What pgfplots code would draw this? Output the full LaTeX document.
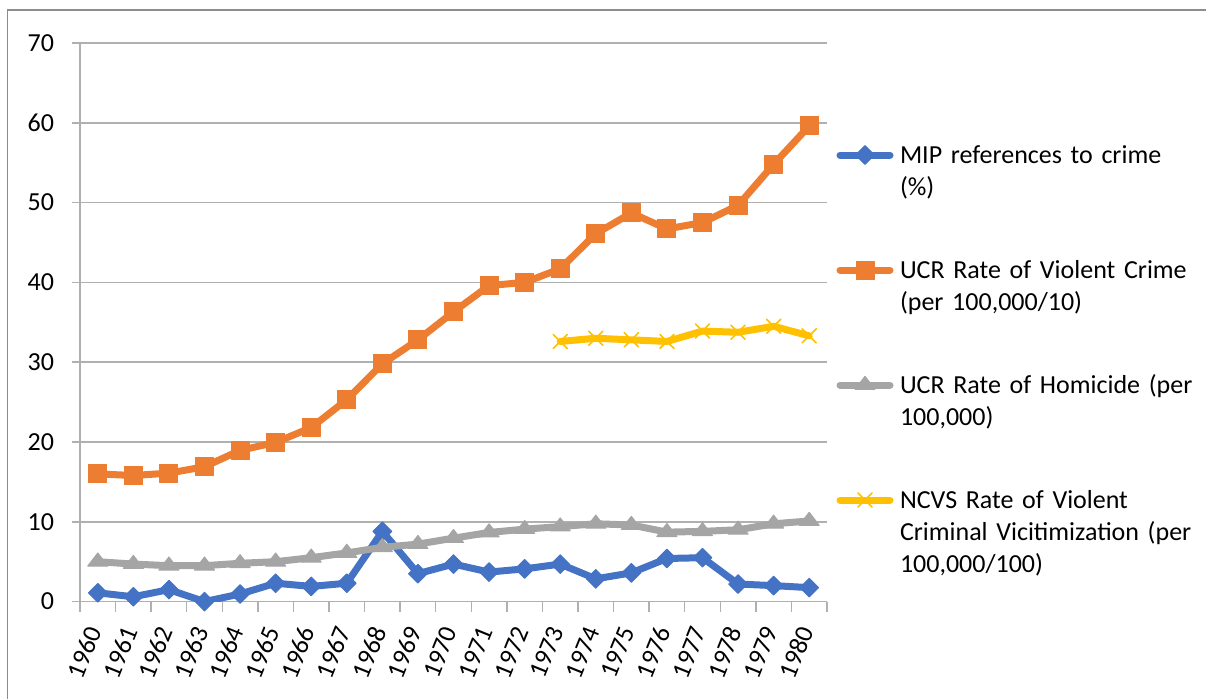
\documentclass[border=0pt]{standalone}
\usepackage{fontspec}
\setmainfont{Carlito}
\usepackage{pgfplots}
\pgfplotsset{compat=1.18}
\definecolor{cblue}{HTML}{4472C4}
\definecolor{corange}{HTML}{ED7D31}
\definecolor{cgray}{HTML}{A5A5A5}
\definecolor{cgold}{HTML}{FFC000}
\definecolor{gridgray}{HTML}{B0B0B0}
\definecolor{framegray}{HTML}{8C8C8C}
\begin{document}
\fontsize{13}{16}\selectfont
\begin{tikzpicture}
\begin{axis}[
  at={(0,0)}, anchor=south west,
  scale only axis, width=373.5pt, height=279.3pt,
  xmin=-0.5, xmax=20.5, ymin=0, ymax=70,
  axis x line*=bottom, axis y line*=left,
  axis line style={draw=gridgray, line width=0.75pt},
  tick align=outside,
  xtick={0,...,20},
  xticklabels={1960,1961,1962,1963,1964,1965,1966,1967,1968,1969,1970,1971,1972,1973,1974,1975,1976,1977,1978,1979,1980},
  minor xtick={-0.5,0.5,...,20.5},
  x tick style={draw=none},
  minor x tick style={draw=gridgray, line width=0.75pt},
  minor tick length=5pt,
  ytick={0,10,...,70},
  yticklabels={0,10,20,30,40,50,60,70},
  y tick style={draw=gridgray, line width=0.75pt},
  major tick length=4pt,
  ymajorgrids,
  grid style={draw=gridgray, line width=0.75pt},
  tick label style={font=\fontsize{13}{16}\selectfont, black},
  xticklabel style={rotate=68, anchor=east},
  xticklabel shift=5pt,
  y tick label style={anchor=east, xshift=-4.5pt},
  legend style={draw=none, fill=none, inner sep=0pt, outer sep=0pt,
    at={(axis description cs:1,1)}, anchor=north west, xshift=4.75pt, yshift=-50pt,
    column sep=3.25pt, row sep=0pt,
    nodes={anchor=base west, inner sep=0pt, outer sep=0pt, text width=160pt, align=left,
      text height=10pt, text depth=47.5pt, font=\fontsize{13}{16}\selectfont}},
  legend image code/.code={\draw[mark repeat=2, mark phase=2, yshift=4pt, #1] plot coordinates {(0pt,0pt) (12.5pt,0pt) (25pt,0pt)};},
  every axis plot/.append style={line width=3.5pt, line cap=round, line join=round},
]
\addplot[cblue, mark=square*, mark size=3.3pt, mark options={rotate=45, fill=cblue, draw=cblue, line width=0.5pt}]
  coordinates {(0,1.1)(1,0.6)(2,1.5)(3,0)(4,0.95)(5,2.3)(6,1.9)(7,2.3)(8,8.8)(9,3.5)(10,4.7)(11,3.7)(12,4.1)(13,4.7)(14,2.85)(15,3.6)(16,5.4)(17,5.5)(18,2.2)(19,2.0)(20,1.75)};
\addlegendentry{MIP references to crime\\(\%)}
\addplot[corange, mark=square*, mark size=4.5pt, mark options={fill=corange, draw=corange, line width=0.5pt}]
  coordinates {(0,16.0)(1,15.8)(2,16.1)(3,16.9)(4,18.95)(5,19.95)(6,21.8)(7,25.3)(8,29.8)(9,32.8)(10,36.3)(11,39.6)(12,40.0)(13,41.7)(14,46.1)(15,48.7)(16,46.7)(17,47.5)(18,49.65)(19,54.8)(20,59.6)};
\addlegendentry{UCR Rate of Violent Crime\\(per 100,000/10)}
\addplot[cgray, mark=triangle*, mark size=5.8pt, mark options={yscale=0.75, fill=cgray, draw=cgray, line width=0.5pt}]
  coordinates {(0,5.0)(1,4.7)(2,4.5)(3,4.5)(4,4.8)(5,5.0)(6,5.5)(7,6.1)(8,6.8)(9,7.2)(10,7.95)(11,8.66)(12,9.08)(13,9.4)(14,9.75)(15,9.6)(16,8.7)(17,8.8)(18,9.0)(19,9.75)(20,10.1)};
\addlegendentry{UCR Rate of Homicide (per\\100,000)}
\addplot[cgold, mark=x, mark size=5pt, mark options={draw=cgold, line width=0.8pt}]
  coordinates {(13,32.6)(14,33.0)(15,32.8)(16,32.6)(17,33.9)(18,33.75)(19,34.5)(20,33.3)};
\addlegendentry{NCVS Rate of Violent\\Criminal Vicitimization (per\\100,000/100)}
\end{axis}
\draw[framegray, line width=0.6pt] (-36.3pt,-70pt) -- (-36.3pt,295.8pt) -- (600pt,295.8pt);
\pgfresetboundingbox
\useasboundingbox (-40pt,-48.65pt) rectangle (563pt,300.8pt);
\end{tikzpicture}
\end{document}
